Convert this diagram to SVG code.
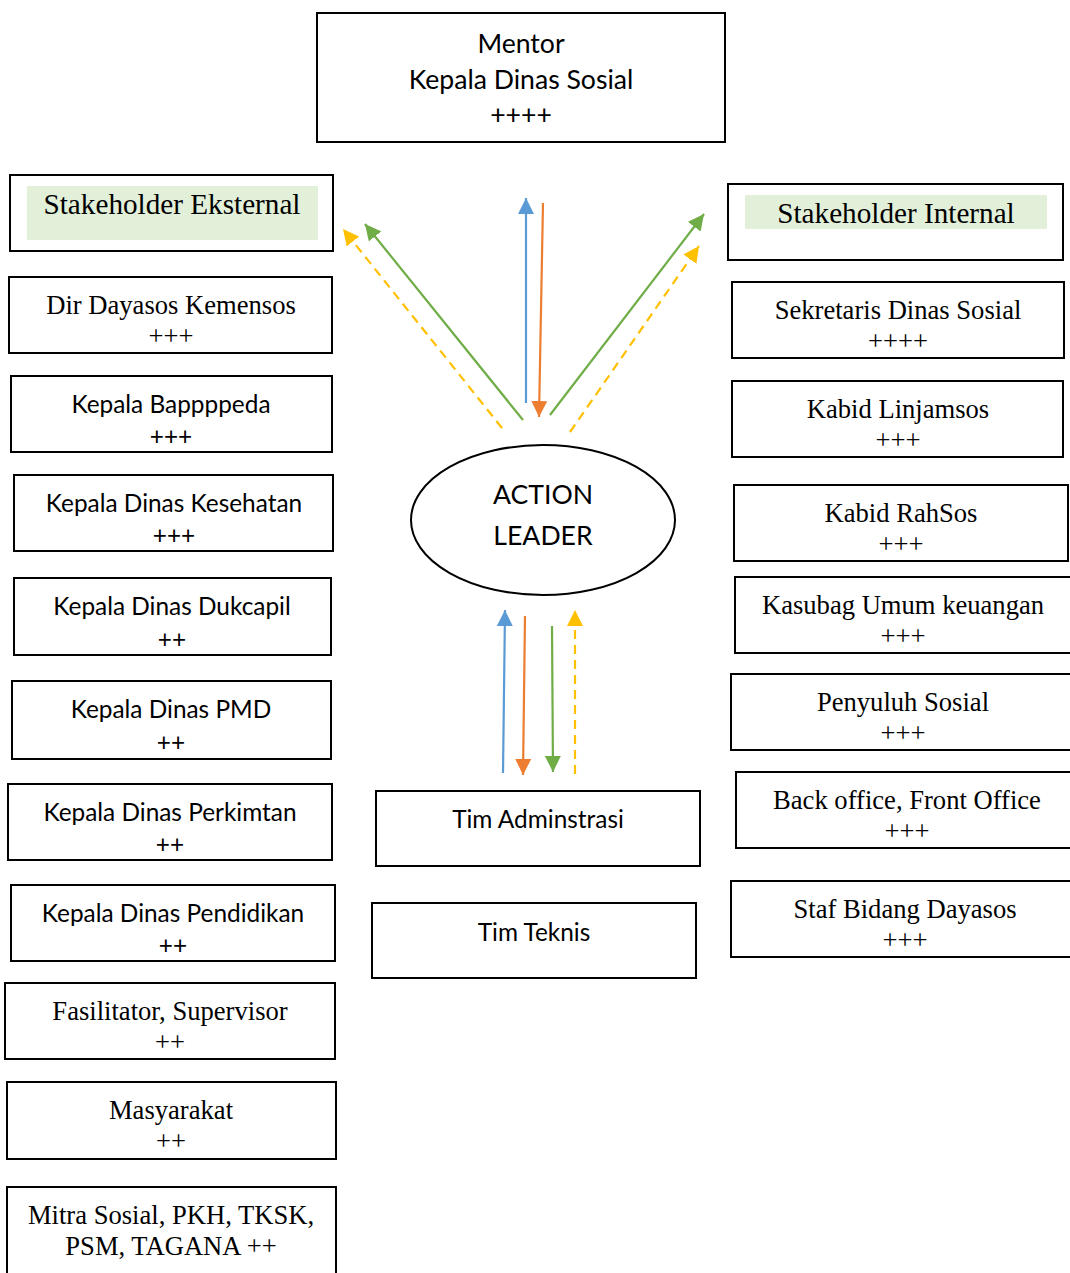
<svg xmlns="http://www.w3.org/2000/svg" width="1070" height="1273" viewBox="0 0 1070 1273">
  <style>
    .box { fill: #ffffff; stroke: #000000; stroke-width: 2; }
    .band { fill: #e2efd9; }
    .sans { font-family: Lato, "Open Sans", "Liberation Sans", sans-serif; font-size: 24.4px; fill: #000; text-anchor: middle; }
    .serif { font-family: "Liberation Serif", "Times New Roman", serif; font-size: 26.6px; fill: #000; text-anchor: middle; }
    .head { font-family: "Liberation Serif", "Times New Roman", serif; font-size: 29.2px; fill: #000; text-anchor: middle; }
    .big { font-size: 26.6px; }
    .link { fill: none; stroke-width: 2.2; }
    .blue { stroke: #5b9bd5; }
    .orange { stroke: #ed7d31; }
    .green { stroke: #70ad47; }
    .yellow { stroke: #ffc000; stroke-dasharray: 9 6; }
  </style>
  <defs>
    <marker id="ah-blue" markerUnits="userSpaceOnUse" markerWidth="17" markerHeight="16" refX="16" refY="8" orient="auto"><path d="M0,0 L16,8 L0,16 z" fill="#5b9bd5"/></marker>
    <marker id="ah-orange" markerUnits="userSpaceOnUse" markerWidth="17" markerHeight="16" refX="16" refY="8" orient="auto"><path d="M0,0 L16,8 L0,16 z" fill="#ed7d31"/></marker>
    <marker id="ah-green" markerUnits="userSpaceOnUse" markerWidth="17" markerHeight="16" refX="16" refY="8" orient="auto"><path d="M0,0 L16,8 L0,16 z" fill="#70ad47"/></marker>
    <marker id="ah-yellow" markerUnits="userSpaceOnUse" markerWidth="17" markerHeight="16" refX="16" refY="8" orient="auto"><path d="M0,0 L16,8 L0,16 z" fill="#ffc000"/></marker>
  </defs>

  <rect width="1070" height="1273" fill="#ffffff"/>

  <!-- top: mentor -->
  <g id="mentor">
    <rect class="box" x="317" y="13" width="408" height="129"/>
    <text class="sans big" x="521" y="53">Mentor</text>
    <text class="sans big" x="521" y="89">Kepala Dinas Sosial</text>
    <text class="sans big" x="521" y="124">++++</text>
  </g>

  <!-- central leader -->
  <g id="action-leader">
    <ellipse class="box" cx="543" cy="520" rx="132" ry="75"/>
    <text class="sans big" x="543" y="504">ACTION</text>
    <text class="sans big" x="543" y="545">LEADER</text>
  </g>

  <g id="tim-adminstrasi">
    <rect class="box" x="376" y="791" width="324" height="75"/>
    <text class="sans" x="538" y="828">Tim Adminstrasi</text>
  </g>
  <g id="tim-teknis">
    <rect class="box" x="372" y="903" width="324" height="75"/>
    <text class="sans" x="534" y="941">Tim Teknis</text>
  </g>

  <!-- external stakeholders (left column) -->
  <g id="stakeholder-eksternal">
    <rect class="box" x="10" y="175" width="323" height="76"/>
    <rect class="band" x="27" y="186" width="291" height="54"/>
    <text class="head" x="172" y="214">Stakeholder Eksternal</text>
  </g>
  <g id="dir-dayasos">
    <rect class="box" x="9" y="277" width="323" height="76"/>
    <text class="serif" x="171" y="314">Dir Dayasos Kemensos</text>
    <text class="serif" x="171" y="345">+++</text>
  </g>
  <g id="bappppeda">
    <rect class="box" x="11" y="376" width="321" height="76"/>
    <text class="sans" x="171" y="413">Kepala Bappppeda</text>
    <text class="sans" x="171" y="445">+++</text>
  </g>
  <g id="dinkes">
    <rect class="box" x="14" y="475" width="319" height="76"/>
    <text class="sans" x="174" y="512">Kepala Dinas Kesehatan</text>
    <text class="sans" x="174" y="544">+++</text>
  </g>
  <g id="dukcapil">
    <rect class="box" x="14" y="578" width="317" height="77"/>
    <text class="sans" x="172" y="615">Kepala Dinas Dukcapil</text>
    <text class="sans" x="172" y="648">++</text>
  </g>
  <g id="pmd">
    <rect class="box" x="12" y="681" width="319" height="78"/>
    <text class="sans" x="171" y="718">Kepala Dinas PMD</text>
    <text class="sans" x="171" y="751">++</text>
  </g>
  <g id="perkimtan">
    <rect class="box" x="8" y="784" width="324" height="76"/>
    <text class="sans" x="170" y="821">Kepala Dinas Perkimtan</text>
    <text class="sans" x="170" y="853">++</text>
  </g>
  <g id="pendidikan">
    <rect class="box" x="11" y="885" width="324" height="76"/>
    <text class="sans" x="173" y="922">Kepala Dinas Pendidikan</text>
    <text class="sans" x="173" y="954">++</text>
  </g>
  <g id="fasilitator">
    <rect class="box" x="5" y="983" width="330" height="76"/>
    <text class="serif" x="170" y="1020">Fasilitator, Supervisor</text>
    <text class="serif" x="170" y="1051">++</text>
  </g>
  <g id="masyarakat">
    <rect class="box" x="7" y="1082" width="329" height="77"/>
    <text class="serif" x="171" y="1119">Masyarakat</text>
    <text class="serif" x="171" y="1150">++</text>
  </g>
  <g id="mitra-sosial">
    <rect class="box" x="7" y="1187" width="329" height="100"/>
    <text class="serif" x="171" y="1224">Mitra Sosial, PKH, TKSK,</text>
    <text class="serif" x="171" y="1255">PSM, TAGANA ++</text>
  </g>

  <!-- internal stakeholders (right column) -->
  <g id="stakeholder-internal">
    <rect class="box" x="728" y="184" width="335" height="76"/>
    <rect class="band" x="745" y="195" width="302" height="34"/>
    <text class="head" x="896" y="223">Stakeholder Internal</text>
  </g>
  <g id="sekretaris">
    <rect class="box" x="732" y="282" width="332" height="76"/>
    <text class="serif" x="898" y="319">Sekretaris Dinas Sosial</text>
    <text class="serif" x="898" y="350">++++</text>
  </g>
  <g id="linjamsos">
    <rect class="box" x="732" y="381" width="331" height="76"/>
    <text class="serif" x="898" y="418">Kabid Linjamsos</text>
    <text class="serif" x="898" y="449">+++</text>
  </g>
  <g id="rahsos">
    <rect class="box" x="734" y="485" width="334" height="76"/>
    <text class="serif" x="901" y="522">Kabid RahSos</text>
    <text class="serif" x="901" y="553">+++</text>
  </g>
  <g id="kasubag">
    <rect class="box" x="735" y="577" width="345" height="76"/>
    <text class="serif" x="903" y="614">Kasubag Umum keuangan</text>
    <text class="serif" x="903" y="645">+++</text>
  </g>
  <g id="penyuluh">
    <rect class="box" x="731" y="674" width="349" height="76"/>
    <text class="serif" x="903" y="711">Penyuluh Sosial</text>
    <text class="serif" x="903" y="742">+++</text>
  </g>
  <g id="back-office">
    <rect class="box" x="736" y="772" width="344" height="76"/>
    <text class="serif" x="907" y="809">Back office, Front Office</text>
    <text class="serif" x="907" y="840">+++</text>
  </g>
  <g id="staf-dayasos">
    <rect class="box" x="731" y="881" width="349" height="76"/>
    <text class="serif" x="905" y="918">Staf Bidang Dayasos</text>
    <text class="serif" x="905" y="949">+++</text>
  </g>

  <!-- connectors -->
  <g id="connectors">
    <line class="link blue" x1="526" y1="403" x2="526" y2="198" marker-end="url(#ah-blue)"/>
    <line class="link orange" x1="543" y1="203" x2="539" y2="417" marker-end="url(#ah-orange)"/>
    <line class="link green" x1="523" y1="420" x2="365" y2="224" marker-end="url(#ah-green)"/>
    <line class="link yellow" x1="502" y1="428" x2="343" y2="229" marker-end="url(#ah-yellow)"/>
    <line class="link green" x1="550" y1="415" x2="704" y2="214" marker-end="url(#ah-green)"/>
    <line class="link yellow" x1="570" y1="432" x2="699" y2="246" marker-end="url(#ah-yellow)"/>

    <line class="link blue" x1="503" y1="773" x2="505" y2="610" marker-end="url(#ah-blue)"/>
    <line class="link orange" x1="525" y1="616" x2="523" y2="775" marker-end="url(#ah-orange)"/>
    <line class="link green" x1="552" y1="626" x2="553" y2="772" marker-end="url(#ah-green)"/>
    <line class="link yellow" x1="575" y1="774" x2="575" y2="610" marker-end="url(#ah-yellow)"/>
  </g>
</svg>
